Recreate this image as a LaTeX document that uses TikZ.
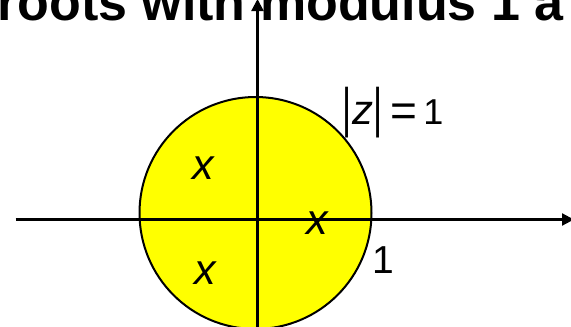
\documentclass[tikz,border=0pt]{standalone}
\usepackage{fontspec}
\usepackage{graphicx}
\setmainfont{Liberation Sans}
\usetikzlibrary{arrows.meta}
\definecolor{discyellow}{RGB}{255,255,0}
\tikzset{
  axis/.style={line width=2.2pt, draw=black, -{Triangle[length=12pt,width=12pt]}},
  disc/.style={fill=discyellow, draw=black, line width=2pt},
  lbl/.style={inner sep=0pt, outer sep=0pt, text=black},
  rootmark/.style={lbl, font=\fontsize{43}{43}\selectfont\itshape, anchor=center},
}
\begin{document}
\begin{tikzpicture}[x=1pt,y=-1pt]
\useasboundingbox (0,0) rectangle (571,327);
% unit disc
\node[disc, circle, minimum size=232pt, inner sep=0pt] (disc) at (255.5,213) {};
% axes
\coordinate (xstart) at (15.7,219.5);
\coordinate (xend) at (574,219.5);
\coordinate (ystart) at (257.5,332);
\coordinate (yend) at (257.5,-1);
\draw[axis] (xstart) -- (xend);
\draw[axis] (ystart) -- (yend);
% title (cropped)
\node[lbl, anchor=base west, font=\fontsize{52}{52}\selectfont\bfseries] (title) at (-2.7,20.7) {roots with modulus 1 a};
% roots
\node[rootmark] (r1) at (203,168) {x};
\node[rootmark] (r2) at (317,223) {x};
\node[rootmark] (r3) at (205,273) {x};
% label 1 on real axis
\node[lbl, anchor=base, font=\fontsize{39}{39}\selectfont] (one) at (383.5,273) {1};
% |z| = 1
\node[lbl, anchor=center, font=\fontsize{35}{35}\selectfont] (bar1) at (347,113) {\scalebox{1}[1.55]{|}};
\node[lbl, anchor=base, font=\fontsize{42}{42}\selectfont\itshape] (zz) at (363,124) {z};
\node[lbl, anchor=center, font=\fontsize{35}{35}\selectfont] (bar2) at (378,113) {\scalebox{1}[1.55]{|}};
\node[lbl, anchor=base, font=\fontsize{46}{46}\selectfont] (eq) at (404,126) {=};
\node[lbl, anchor=base, font=\fontsize{36}{36}\selectfont] (unit) at (433.5,124) {1};
\end{tikzpicture}
\end{document}
